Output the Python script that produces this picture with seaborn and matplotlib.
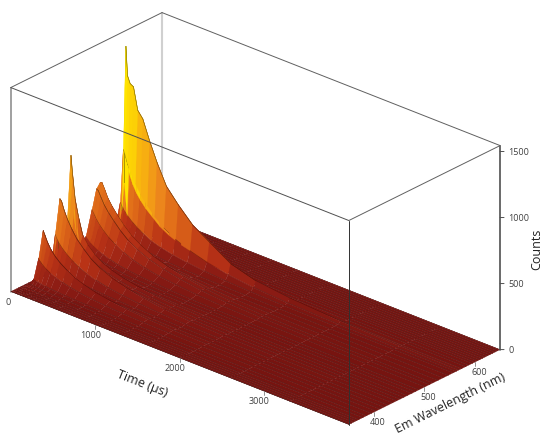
import numpy as np
import matplotlib
matplotlib.use('Agg')
import matplotlib.pyplot as plt
import seaborn as sns

time_us = [0, 20, 40, 60, 80, 110, 150, 200, 260, 340, 430, 540, 680, 850, 1050, 1300, 1600, 2000, 2600, 3300, 4000]
wavelength_nm = [350, 355, 360, 365, 370, 378, 385, 395, 404, 412, 420, 428, 437, 445, 452, 459, 466, 475, 482, 489, 501, 510,
                 517, 527, 537, 547, 557, 563, 568, 574, 582, 588, 595, 600, 605, 610, 615, 620, 625, 630, 635, 640, 645, 650]
flat = [0] * 21
counts = [
    flat, flat, flat, flat,
    [0, 0, 3, 6, 5, 4, 3, 2, 1, 0, 0, 0, 0, 0, 0, 0, 0, 0, 0, 0, 0],
    [0, 0, 6, 16, 15, 12, 10, 8, 6, 5, 3, 2, 1, 1, 0, 0, 0, 0, 0, 0, 0],
    [0, 0, 15, 40, 38, 32, 28, 22, 18, 14, 10, 7, 5, 3, 2, 1, 0, 0, 0, 0, 0],
    [0, 0, 60, 180, 165, 145, 125, 105, 88, 70, 55, 42, 30, 20, 13, 8, 4, 2, 1, 0, 0],
    [0, 0, 120, 375, 345, 300, 255, 215, 180, 145, 110, 85, 60, 42, 28, 16, 8, 3, 1, 0, 0],
    [0, 0, 40, 110, 100, 88, 76, 66, 55, 44, 34, 26, 19, 13, 9, 5, 3, 1, 0, 0, 0],
    [0, 0, 30, 90, 84, 74, 66, 56, 48, 38, 30, 22, 16, 11, 7, 4, 2, 1, 0, 0, 0],
    [0, 0, 90, 300, 275, 245, 215, 185, 155, 125, 98, 74, 54, 38, 25, 14, 7, 3, 1, 0, 0],
    [0, 0, 170, 553, 540, 480, 420, 360, 300, 245, 190, 145, 105, 75, 50, 28, 14, 5, 2, 0, 0],
    [0, 0, 130, 400, 365, 320, 275, 235, 195, 155, 120, 90, 65, 45, 30, 17, 8, 3, 1, 0, 0],
    [0, 0, 120, 370, 330, 285, 240, 205, 170, 135, 104, 78, 56, 39, 26, 15, 7, 3, 1, 0, 0],
    [0, 0, 260, 840, 700, 520, 395, 270, 210, 160, 120, 90, 65, 45, 30, 17, 8, 3, 1, 0, 0],
    [0, 0, 110, 340, 260, 195, 150, 120, 95, 72, 55, 40, 29, 20, 13, 8, 4, 1, 0, 0, 0],
    [0, 0, 35, 110, 95, 80, 68, 56, 46, 36, 27, 20, 14, 10, 6, 4, 2, 1, 0, 0, 0],
    [0, 0, 40, 120, 108, 94, 82, 68, 56, 44, 33, 25, 17, 12, 8, 5, 2, 1, 0, 0, 0],
    [0, 0, 55, 170, 155, 135, 118, 100, 84, 66, 50, 38, 27, 19, 12, 7, 3, 1, 0, 0, 0],
    [0, 0, 115, 350, 330, 295, 260, 225, 190, 155, 120, 90, 65, 45, 30, 17, 8, 3, 1, 0, 0],
    [0, 0, 160, 490, 480, 440, 390, 345, 300, 245, 195, 150, 112, 80, 55, 32, 16, 6, 2, 0, 0],
    [0, 0, 170, 523, 530, 490, 430, 380, 330, 270, 215, 170, 125, 90, 62, 36, 18, 7, 2, 0, 0],
    [0, 0, 120, 370, 350, 315, 275, 240, 205, 165, 130, 98, 72, 50, 34, 19, 10, 4, 1, 0, 0],
    [0, 0, 70, 210, 190, 168, 146, 125, 105, 85, 65, 48, 35, 24, 16, 9, 4, 2, 1, 0, 0],
    [0, 0, 45, 130, 120, 105, 92, 80, 66, 52, 40, 30, 21, 15, 9, 5, 3, 1, 0, 0, 0],
    [0, 0, 100, 300, 280, 250, 220, 190, 160, 130, 100, 78, 58, 42, 28, 17, 10, 4, 1, 0, 0],
    [0, 0, 220, 690, 655, 590, 530, 465, 400, 335, 270, 215, 165, 122, 85, 52, 30, 14, 6, 1, 0],
    [0, 0, 420, 1460, 1240, 1190, 1175, 1010, 960, 815, 670, 520, 415, 305, 225, 125, 70, 40, 18, 8, 0],
    [0, 0, 160, 500, 460, 410, 360, 315, 270, 225, 175, 135, 100, 72, 50, 30, 16, 7, 3, 0, 0],
    [0, 0, 35, 110, 100, 90, 78, 68, 58, 46, 36, 27, 20, 14, 9, 5, 3, 1, 0, 0, 0],
    [0, 0, 18, 55, 50, 45, 40, 34, 29, 23, 18, 13, 10, 7, 4, 2, 1, 0, 0, 0, 0],
    [0, 0, 10, 30, 28, 25, 22, 19, 16, 13, 10, 7, 5, 3, 2, 1, 0, 0, 0, 0, 0],
    flat, flat, flat, flat, flat, flat, flat, flat, flat, flat, flat,
]
time_ticks = [0, 1000, 2000, 3000]
wave_ticks = [400, 500, 600]
count_ticks = [0, 500, 1000, 1500]

sns.set_theme(style='white')
plt.rcParams['font.family'] = ['Open Sans', 'DejaVu Sans']

Z = np.array(counts, dtype=float)

# each quad takes the colour of its highest corner
top = Z.copy()
top[:-1, :-1] = np.max([Z[:-1, :-1], Z[1:, :-1], Z[:-1, 1:], Z[1:, 1:]], axis=0)
heat = sns.blend_palette(['#761410', '#8c1c14', '#b83216', '#dc6418', '#ee8a1c', '#f8b010', '#ffe400'], as_cmap=True)
shades = heat(np.clip(top / 1300, 0, 1) ** 0.65)

# thin dark strip along each row, so the row lines get hidden by the peaks too
wl = np.array(wavelength_nm, dtype=float)
wl2 = np.repeat(wl, 2)
wl2[1::2] += 0.6
wl2[-1] = wl[-1]
wl2[-2] = wl[-1] - 0.6
Z2 = np.repeat(Z, 2, axis=0)
shades2 = np.repeat(shades, 2, axis=0)
shades2[::2, :, :3] *= 0.55
T2, W2 = np.meshgrid(time_us, wl2)

fig = plt.figure(figsize=(5.41, 4.39), dpi=100)
ax = fig.add_axes([-21 / 541, -6 / 439, 1, 1], projection='3d', proj_type='ortho', computed_zorder=False)
ax.view_init(elev=26.2, azim=-48.3)
ax.set_box_aspect((452, 227, 227), zoom=1.228)
ax.set_xlim(0, 4000)
ax.set_ylim(350, 650)
ax.set_zlim(0, 1545)
ax.set_axis_off()

t0, t1, w0, w1, z1 = 0, 4000, 350, 650, 1545

# back of the box, behind the surface
ax.plot([t0, t0], [w1, w1], [0, z1], color='#d0d0d0', lw=1.5, zorder=1, clip_on=False)
ax.plot([t0, t0], [w0, w0], [0, z1], color='#909090', lw=1.2, zorder=1, clip_on=False)
ax.plot([t0, t0], [w0, w1], [z1, z1], color='#606060', lw=0.7, zorder=1, clip_on=False)
ax.plot([t0, t1], [w1, w1], [z1, z1], color='#606060', lw=0.7, zorder=1, clip_on=False)

surf = ax.plot_surface(T2, W2, Z2, facecolors=shades2, rstride=1, cstride=1, shade=False,
                       linewidth=0.2, antialiased=True, zorder=2)
surf.set_clip_on(False)

# front of the box
ax.plot([t1, t1], [w0, w0], [0, z1], color='#303030', lw=0.7, zorder=3, clip_on=False)
ax.plot([t1, t1], [w1, w1], [0, z1], color='#505050', lw=1.2, zorder=3, clip_on=False)
ax.plot([t0, t1], [w0, w0], [z1, z1], color='#505050', lw=0.7, zorder=3, clip_on=False)
ax.plot([t1, t1], [w0, w1], [z1, z1], color='#606060', lw=0.7, zorder=3, clip_on=False)

txt = '#404040'
for t in time_ticks:
    if t > 0:
        ax.plot([t, t], [w0, w0], [0, -30], color='#808080', lw=0.6, zorder=3, clip_on=False)
    ax.text(max(t - 60, -30), w0, -85, str(t), ha='center', va='center', fontsize=6.5, color=txt)
for w in wave_ticks:
    ax.plot([t1, t1], [w, w], [0, -30], color='#808080', lw=0.6, zorder=3, clip_on=False)
    ax.text(t1, w + 8, -90, str(w), ha='center', va='center', fontsize=6.5, color=txt)
for c in count_ticks:
    ax.plot([t1, t1 + 26], [w1, w1 + 3.5], [c, c], color='#505050', lw=0.7, zorder=3, clip_on=False)
    ax.text(t1 + 53, w1 + 7, c, str(c), ha='left', va='center', fontsize=6.5, color=txt)

ax.text(1550, w0, -300, 'Time (µs)', zdir=(1, 0, 0), ha='center', va='center', fontsize=9, color='#222222')
ax.text(t1 + 113, 533, -150, 'Em Wavelength (nm)', zdir=(0, 1, 0), ha='center', va='center', fontsize=9, color='#222222')
ax.text(t1 + 245, w1 + 32, 765, 'Counts', zdir=(0, 0, 1), ha='center', va='center', fontsize=9, color='#222222')

fig.savefig('out.png', dpi=100)
